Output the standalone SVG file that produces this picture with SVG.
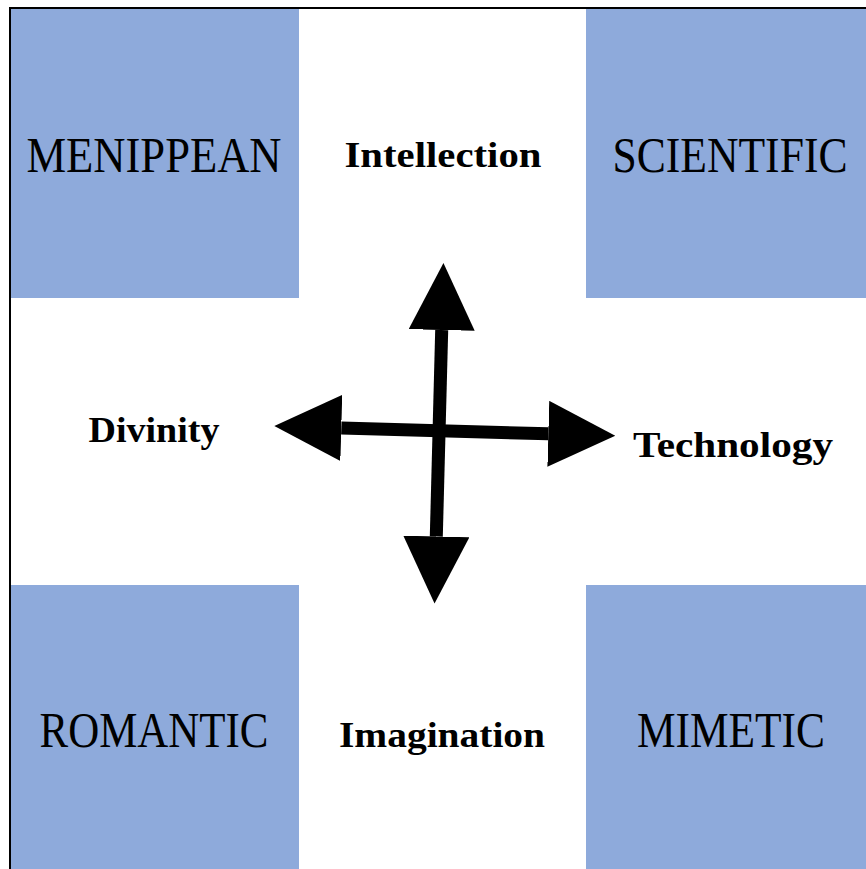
<svg xmlns="http://www.w3.org/2000/svg" width="866" height="869" viewBox="0 0 866 869">
<style>
.box{fill:#8EAADB}
.big{font-family:"Liberation Serif","DejaVu Serif",serif;font-size:50px;fill:#000;text-anchor:middle}
.lbl{font-family:"Liberation Serif","DejaVu Serif",serif;font-size:36px;font-weight:bold;fill:#000;text-anchor:middle}
.frame{stroke:#000;stroke-width:2;fill:none}
.arr{stroke:#000;stroke-width:13;fill:none;marker-start:url(#head);marker-end:url(#head)}
</style>
<defs>
<marker id="head" markerUnits="userSpaceOnUse" markerWidth="68" markerHeight="68" refX="0" refY="33" orient="auto-start-reverse" viewBox="0 0 68 68">
<path d="M0,0 L67,33 L0,66 Z" fill="#000"/>
</marker>
</defs>
<rect width="866" height="869" fill="#fff"/>
<path class="frame" d="M10,869 L10,8 L866,8"/>
<g id="menippean"><rect class="box" x="11" y="9" width="288" height="289"/><text class="big" x="154" y="172" textLength="255" lengthAdjust="spacingAndGlyphs">MENIPPEAN</text></g>
<g id="scientific"><rect class="box" x="586" y="9" width="280" height="289"/><text class="big" x="730" y="172" textLength="235" lengthAdjust="spacingAndGlyphs">SCIENTIFIC</text></g>
<g id="romantic"><rect class="box" x="11" y="585" width="288" height="284"/><text class="big" x="154" y="747" textLength="229" lengthAdjust="spacingAndGlyphs">ROMANTIC</text></g>
<g id="mimetic"><rect class="box" x="586" y="585" width="280" height="284"/><text class="big" x="731" y="747" textLength="188" lengthAdjust="spacingAndGlyphs">MIMETIC</text></g>
<g id="intellection"><text class="lbl" x="443" y="167" textLength="197" lengthAdjust="spacingAndGlyphs">Intellection</text></g>
<g id="divinity"><text class="lbl" x="154" y="442" textLength="131" lengthAdjust="spacingAndGlyphs">Divinity</text></g>
<g id="technology"><text class="lbl" x="733" y="457" textLength="200" lengthAdjust="spacingAndGlyphs">Technology</text></g>
<g id="imagination"><text class="lbl" x="442" y="747" textLength="206" lengthAdjust="spacingAndGlyphs">Imagination</text></g>
<g id="connectors">
<line class="arr" x1="441.7" y1="330" x2="436.3" y2="536.5"/>
<line class="arr" x1="341.3" y1="428" x2="548.3" y2="433.8"/>
</g>
</svg>
